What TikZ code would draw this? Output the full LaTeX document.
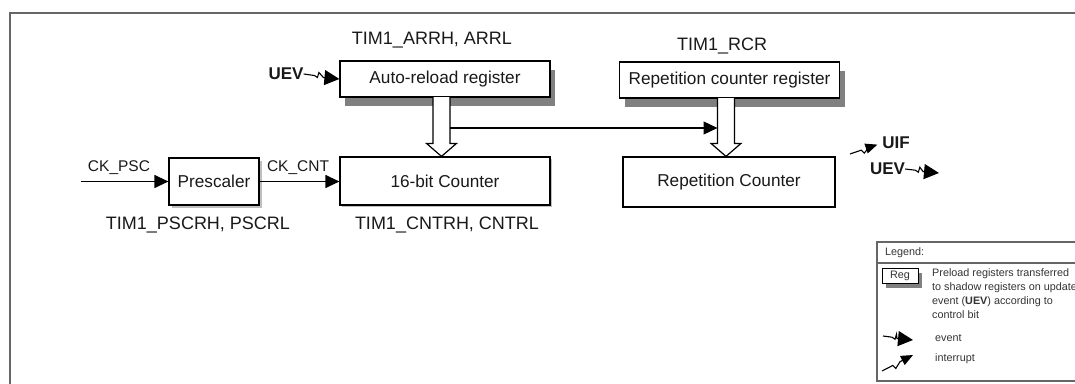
\documentclass[tikz,border=0pt]{standalone}
\usepackage{fontspec}
\setmainfont{Liberation Sans}
\usetikzlibrary{arrows.meta,calc}
\definecolor{shadowgray}{gray}{0.5}
\definecolor{lightgray}{gray}{0.75}

\newcommand\fatarrow[2]{%
  \draw[fat] let \p1=(#1), \p2=(#2) in
    (\x1-8.5pt,\y1) -- (\x1-8.5pt,\y2+13pt) -- (\x1-15pt,\y2+13pt) -- (\x1,\y2)
    -- (\x1+15pt,\y2+13pt) -- (\x1+8.5pt,\y2+13pt) -- (\x1+8.5pt,\y1);}

\begin{document}
\begin{tikzpicture}[x=1pt, y=-1pt,
    every node/.style={inner sep=0pt, text=black!90},
    box/.style={draw, line width=1.2pt, fill=white, font=\fontsize{17.2}{20}\selectfont},
    shadowbox/.style={fill=shadowgray, draw=none},
    lightbox/.style={fill=lightgray, draw=none},
    regname/.style={font=\fontsize{18}{21}\selectfont},
    sig/.style={font=\fontsize{15.5}{18}\selectfont},
    flag/.style={font=\fontsize{17}{20}\selectfont\bfseries},
    leg/.style={font=\fontsize{10.8}{14}\selectfont, text=black!80},
    outline/.style={draw=black!60, line width=1.8pt},
    sigarrow/.style={line width=1.2pt, -{Triangle[length=14pt,width=13pt]}},
    fat/.style={draw, line width=1.2pt, fill=white},
    evt/.style={line width=1.1pt, -{Triangle[length=15pt,width=15pt]},
        to path={-- ($(\tikztostart)!0.3!(\tikztotarget)$) -- ++(3,2) -- ++(1.5,-5)
                 -- ($(\tikztotarget)+(-16,-1.5)$) -- (\tikztotarget)}},
    intr/.style={line width=1.1pt, -{Triangle[length=12pt,width=10pt]},
        to path={-- ($(\tikztostart)!0.35!(\tikztotarget)$) -- ++(3,3)
                 -- ($(\tikztostart)!0.58!(\tikztotarget)$) -- (\tikztotarget)}}
]

\useasboundingbox (0,0) rectangle (1075,383);

% shadows
\node[shadowbox, minimum width=210pt, minimum height=36pt] (arrshade) at (450,88) {};
\node[shadowbox, minimum width=220pt, minimum height=36pt] (rcrshade) at (734.5,89) {};
\node[shadowbox, minimum width=36pt, minimum height=15pt] (regshade) at (904,280.5) {};
\node[lightbox, minimum width=90pt, minimum height=47pt] (pscshade) at (216.5,184) {};
\node[lightbox, minimum width=210pt, minimum height=48pt] (cntshade) at (447,183) {};

\draw[outline] (10,390) -- (10,13) -- (1080,13);

\node[box, minimum width=210pt, minimum height=36pt] (arr) at (445,79) {Auto-reload register};
\node[box, minimum width=220pt, minimum height=36pt] (rcr) at (729.5,80) {Repetition counter register};
\node[box, minimum width=90pt, minimum height=47pt] (psc) at (214,181.5) {Prescaler};
\node[box, minimum width=210pt, minimum height=48pt] (cnt) at (445,181) {16-bit Counter};
\node[box, minimum width=212pt, minimum height=50pt] (rep) at (729,182) {Repetition Counter};
\node[box, leg, line width=1pt, minimum width=36pt, minimum height=15pt] (legreg) at (900,275.5) {Reg};

\node[regname] (arrname) at (432,40) {TIM1\_ARRH, ARRL};
\node[regname] (rcrname) at (722,46) {TIM1\_RCR};
\node[regname] (pscname) at (198,225) {TIM1\_PSCRH, PSCRL};
\node[regname] (cntname) at (447,225) {TIM1\_CNTRH, CNTRL};

\node[sig] (ckpsc) at (119,168) {CK\_PSC};
\node[sig] (ckcnt) at (298,168) {CK\_CNT};
\coordinate (clkin) at (81,181.5);
\draw[sigarrow] (clkin) -- (psc.west);
\draw[sigarrow] (psc.east) -- (psc.east -| cnt.west);

\node[flag] (uev) at (286,74) {UEV};
\draw[evt] (uev.east) to (arr.west);

\coordinate (s1) at (441.5,97);
\coordinate (s2) at (726,98);
\fatarrow{s1}{s1 |- cnt.north}
\fatarrow{s2}{s2 |- rep.north}
\coordinate (tap) at (450,128);
\draw[sigarrow] (tap) -- (717.5,128);

\node[flag] (uif) at (896,143) {UIF};
\coordinate (uifsrc) at (850,154);
\draw[intr, shorten >=5pt] (uifsrc) to (uif.west);
\node[flag] (uev2) at (887.5,169) {UEV};
\coordinate (uevdst) at (939,173);
\draw[evt] (uev2.east) to (uevdst);

\draw[outline, line width=1.4pt] (1075,242) -- (877,242) -- (877,381) -- (1075,381);
\draw[outline, line width=1.4pt] (877,263) -- (1075,263);
\node[leg, anchor=west] (legtitle) at (885,253) {Legend:};
\node[leg, anchor=north west, align=left] (legtext) at (932,268) {Preload registers transferred\\to shadow registers on update\\event (\textbf{UEV}) according to\\control bit};
\coordinate (evA) at (883,336);
\coordinate (evB) at (913,340);
\draw[evt] (evA) to (evB);
\node[leg, anchor=west] (legevt) at (935,338) {event};
\coordinate (inA) at (882,371);
\coordinate (inB) at (913,355);
\draw[intr] (inA) to (inB);
\node[leg, anchor=west] (legint) at (935,359) {interrupt};

\end{tikzpicture}
\end{document}
